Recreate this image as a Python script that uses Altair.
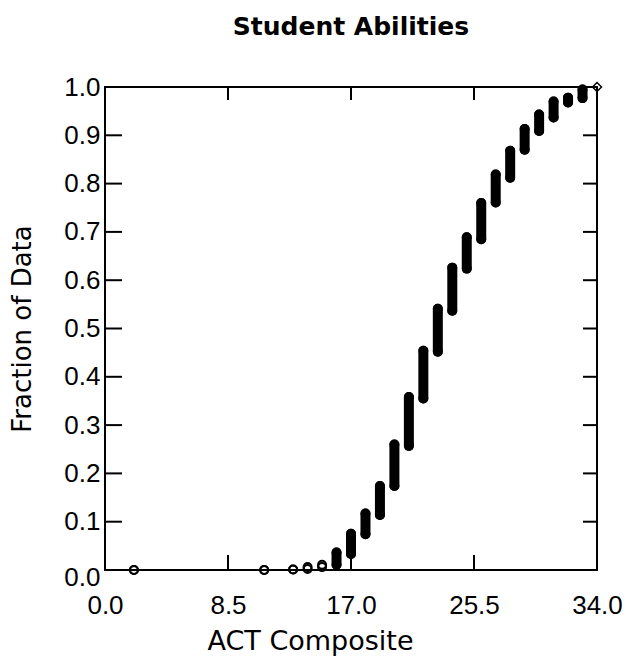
import altair as alt
import pandas as pd

scores = [2, 11, 13, 14, 15, 16, 17, 18, 19, 20, 21, 22, 23, 24, 25, 26, 27, 28, 29, 30, 31, 32, 33]
frac_low = [0.000, 0.000, 0.001, 0.002, 0.006, 0.011, 0.033, 0.074, 0.114, 0.174, 0.257, 0.355, 0.452,
            0.537, 0.624, 0.685, 0.761, 0.812, 0.870, 0.909, 0.937, 0.968, 0.977]
frac_high = [0.000, 0.000, 0.001, 0.006, 0.011, 0.036, 0.075, 0.117, 0.174, 0.260, 0.358, 0.454, 0.541,
             0.626, 0.689, 0.760, 0.819, 0.868, 0.913, 0.943, 0.970, 0.978, 0.995]
last_score = [34]
last_frac = [1.0]

x_tick_labels = [0.0, 8.5, 17.0, 25.5, 34.0]
y_tick_labels = [0.0, 0.1, 0.2, 0.3, 0.4, 0.5, 0.6, 0.7, 0.8, 0.9, 1.0]
inner_x_ticks = [8.5, 17.0, 25.5]
inner_y_ticks = [0.1, 0.2, 0.3, 0.4, 0.5, 0.6, 0.7, 0.8, 0.9]

W, H = 492, 483

groups = pd.DataFrame({"score": scores, "lo": frac_low, "hi": frac_high})
last = pd.DataFrame({"score": last_score, "frac": last_frac})
xt = pd.DataFrame({"v": inner_x_ticks})
yt = pd.DataFrame({"v": inner_y_ticks})

xscale = alt.Scale(domain=[0, 34], nice=False, zero=False)
yscale = alt.Scale(domain=[0, 1], nice=False, zero=False)

label_font = "Liberation Sans"
title_font = "DejaVu Sans"

xaxis = alt.Axis(
    values=x_tick_labels, format=".1f", title="ACT Composite",
    labelFont=label_font, labelFontSize=26, labelColor="black", labelPadding=22,
    tickSize=0, domain=False, grid=False, labelFlush=False, labelOverlap=False,
    titleFont=title_font, titleFontSize=27, titleFontWeight="normal", titleColor="black",
    titlePadding=10, titleX=205, titleAlign="center",
)
yaxis = alt.Axis(
    values=y_tick_labels, format=".1f", title="Fraction of Data",
    labelFont=label_font, labelFontSize=26, labelColor="black", labelPadding=5,
    labelOffset={"condition": {"test": "datum.value == 0", "value": 7}, "value": 0},
    tickSize=0, domain=False, grid=False, labelFlush=False, labelOverlap=False,
    titleFont=title_font, titleFontSize=26, titleFontWeight="normal", titleColor="black",
    titlePadding=28,
)

X = lambda f: alt.X(f, scale=xscale, axis=xaxis)
Y = lambda f: alt.Y(f, scale=yscale, axis=yaxis)

bars = alt.Chart(groups).transform_filter("datum.hi - datum.lo > 0.006").mark_rule(
    color="black", strokeWidth=10, strokeCap="round").encode(
    x=X("score:Q"), y=Y("lo:Q"), y2="hi:Q",
)
pt_style = dict(shape="circle", filled=False, color="black", size=64, strokeWidth=2, opacity=1)
pts_lo = alt.Chart(groups).mark_point(**pt_style).encode(x=X("score:Q"), y=Y("lo:Q"))
pts_hi = alt.Chart(groups).mark_point(**pt_style).encode(x=X("score:Q"), y=Y("hi:Q"))
pt_last = alt.Chart(last).mark_point(shape="diamond", filled=False, color="black", size=80,
                                     strokeWidth=1.5, opacity=1).encode(x=X("score:Q"), y=Y("frac:Q"))

tick_style = dict(color="black", strokeWidth=2)
left_ticks = alt.Chart(yt).mark_rule(**tick_style).encode(
    y=Y("v:Q"), x=alt.value(0), x2=alt.value(17))
right_ticks = alt.Chart(yt).mark_rule(**tick_style).encode(
    y=Y("v:Q"), x=alt.value(W - 14), x2=alt.value(W))
top_ticks = alt.Chart(xt).mark_rule(**tick_style).encode(
    x=X("v:Q"), y=alt.value(0), y2=alt.value(13))
bottom_ticks = alt.Chart(xt).mark_rule(**tick_style).encode(
    x=X("v:Q"), y=alt.value(H - 15), y2=alt.value(H))

chart = alt.layer(
    bars, pts_lo, pts_hi, pt_last, left_ticks, right_ticks, top_ticks, bottom_ticks
).properties(
    width=W, height=H,
    padding={"left": 105, "top": 87, "right": 29, "bottom": 93},
    autosize=alt.AutoSizeParams(type="none"),
    title=alt.Title("Student Abilities", font=title_font, fontSize=25, fontWeight="bold",
                    color="black", anchor="middle", offset=34),
    background="white",
).configure_view(stroke="black", strokeWidth=2)

chart.save("out.html", embed_options={"renderer": "svg", "actions": False})
